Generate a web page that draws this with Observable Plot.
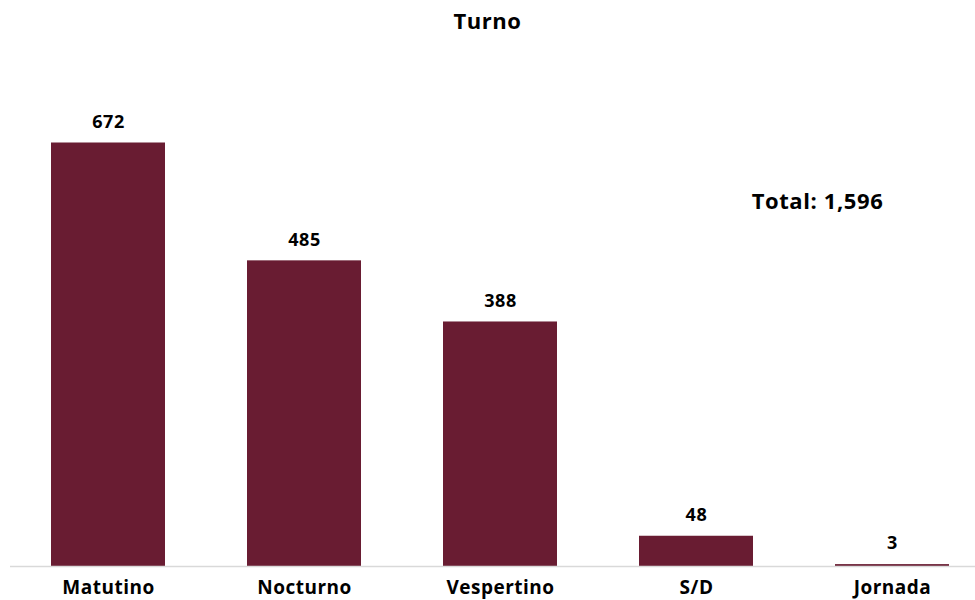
<!DOCTYPE html>
<html>
<head>
<meta charset="utf-8">
<script src="https://cdn.jsdelivr.net/npm/d3@7"></script>
<script src="https://cdn.jsdelivr.net/npm/@observablehq/plot@0.6"></script>
<style>
  html, body { margin: 0; padding: 0; background: #fff; }
  #wrap { position: relative; width: 975px; height: 600px; font-family: "Open Sans", sans-serif; }
  #title { position: absolute; top: 5px; left: 0; width: 975px; text-align: center; font-weight: 700; font-size: 22px; color: #000; letter-spacing: 0.5px; }
  svg { display: block; }
</style>
</head>
<body>
<div id="wrap">
  <div id="title">Turno</div>
  <div id="chart"></div>
</div>
<script>
const categories = ["Matutino", "Nocturno", "Vespertino", "S/D", "Jornada"];
const values = [672, 485, 388, 48, 3];
const totalLabel = "Total: 1,596";

const data = categories.map((c, i) => ({turno: c, n: values[i]}));
const fmt = d3.format(",");

const chart = Plot.plot({
  width: 975,
  height: 600,
  marginTop: 142.5,
  marginBottom: 34,
  marginLeft: 10,
  marginRight: 0,
  style: {fontFamily: "Open Sans, sans-serif", background: "white"},
  x: {domain: categories, paddingInner: 0.4176, paddingOuter: 0.16, align: 0.61, label: null},
  y: {domain: [0, 672], axis: null},
  marks: [
    Plot.barY(data, {x: "turno", y: "n", fill: "#691c32"}),
    Plot.ruleY([0], {stroke: "#d9d9d9", strokeWidth: 1.5}),
    Plot.text(data, {x: "turno", y: "n", text: d => fmt(d.n), dy: -21, fontSize: 18, fontWeight: 700, fill: "#000"}),
    Plot.axisX({tickSize: 0, tickPadding: 14, fontSize: 19, fontWeight: 700, color: "#000", label: null}),
    Plot.text([totalLabel], {text: d => d, frameAnchor: "top-right", textAnchor: "middle", dx: -158, dy: 50, fontSize: 22, fontWeight: 700, fill: "#000"})
  ]
});
chart.querySelectorAll("g[aria-label='x-axis tick label'] text, g[aria-label='x-axis tick label']").forEach(e => { e.setAttribute("font-weight", "700"); e.setAttribute("fill", "#000"); e.setAttribute("letter-spacing", "0.5"); });
chart.querySelectorAll("g[aria-label='text'] text").forEach(e => e.setAttribute("letter-spacing", "0.6"));
document.getElementById("chart").appendChild(chart);
</script>
</body>
</html>
